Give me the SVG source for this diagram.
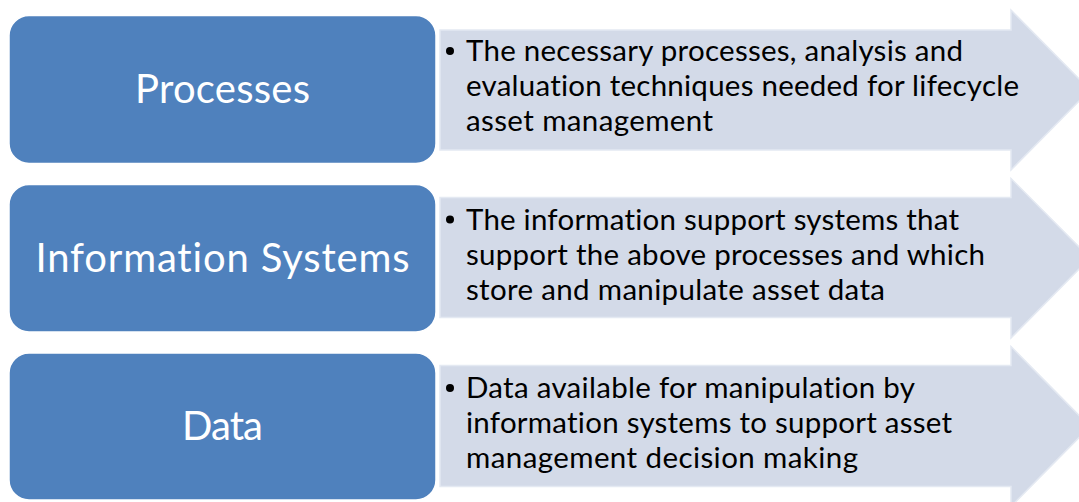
<svg xmlns="http://www.w3.org/2000/svg" width="1079" height="502" viewBox="0 0 1079 502">
  <defs>
    <style>
      .box { fill: #4F81BD; stroke: #ffffff; stroke-width: 1.5; }
      .arrow { fill: #D3DAE8; stroke: #E4E9F2; stroke-width: 1.5; stroke-linejoin: miter; }
      text { font-variant-ligatures: none; font-feature-settings: "liga" 0; }
      .label { font-family: Lato, "Liberation Sans", sans-serif; font-size: 40px; fill: #ffffff; text-anchor: middle; }
      .desc { font-family: Lato, "Liberation Sans", sans-serif; font-size: 29.5px; fill: #000000; }
      .bullet { fill: #000000; }
    </style>
  </defs>
  <rect width="1079" height="502" fill="#ffffff"/>

  <!-- Row 1: Processes -->
  <g id="row-processes">
    <path class="arrow" d="M440,30 H1011 V10 L1090,90 L1011,170 V150 H440 Z"/>
    <rect class="box" x="9" y="15.5" width="427" height="148" rx="20" ry="20"/>
    <text class="label" x="222.5" y="103" textLength="175" lengthAdjust="spacing">Processes</text>
    <circle class="bullet" cx="450" cy="51" r="4"/>
    <text class="desc" x="466" y="61" textLength="497" lengthAdjust="spacing">The necessary processes, analysis and</text>
    <text class="desc" x="466" y="96" textLength="553" lengthAdjust="spacing">evaluation techniques needed for lifecycle</text>
    <text class="desc" x="466" y="131" textLength="247" lengthAdjust="spacing">asset management</text>
  </g>

  <!-- Row 2: Information Systems -->
  <g id="row-information-systems">
    <path class="arrow" d="M440,197.5 H1011 V178.5 L1090,258 L1011,338 V317.5 H440 Z"/>
    <rect class="box" x="9" y="184.5" width="427" height="147.5" rx="20" ry="20"/>
    <text class="label" x="222.5" y="272" textLength="374" lengthAdjust="spacing">Information Systems</text>
    <circle class="bullet" cx="450" cy="219.5" r="4"/>
    <text class="desc" x="466" y="229.5" textLength="493" lengthAdjust="spacing">The information support systems that</text>
    <text class="desc" x="466" y="264.5" textLength="519" lengthAdjust="spacing">support the above processes and which</text>
    <text class="desc" x="466" y="299.5" textLength="419" lengthAdjust="spacing">store and manipulate asset data</text>
  </g>

  <!-- Row 3: Data -->
  <g id="row-data">
    <path class="arrow" d="M440,365.5 H1011 V346.5 L1090,426.5 L1011,506.5 V486.5 H440 Z"/>
    <rect class="box" x="9" y="353" width="427" height="147" rx="20" ry="20"/>
    <text class="label" x="222.5" y="440" textLength="81" lengthAdjust="spacing">Data</text>
    <circle class="bullet" cx="450" cy="388" r="4"/>
    <text class="desc" x="466" y="398" textLength="449" lengthAdjust="spacing">Data available for manipulation by</text>
    <text class="desc" x="466" y="433" textLength="486" lengthAdjust="spacing">information systems to support asset</text>
    <text class="desc" x="466" y="468" textLength="392" lengthAdjust="spacing">management decision making</text>
  </g>

  <g id="connectors"/>
</svg>
